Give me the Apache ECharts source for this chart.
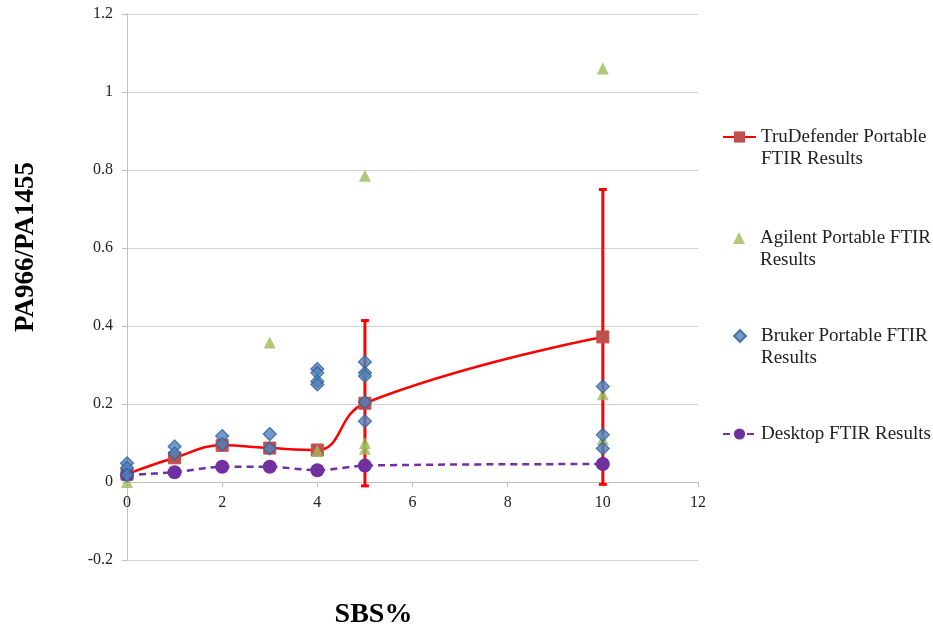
<!DOCTYPE html>
<html><head><meta charset="utf-8">
<script src="https://cdn.jsdelivr.net/npm/echarts@6/dist/echarts.min.js"></script>
<style>html,body{margin:0;padding:0;background:#fff}#c{width:933px;height:625px}</style>
</head><body><div id="c"></div>
<script>
const truX = [0, 1, 2, 3, 4, 5, 10];
const truY = [0.02, 0.062, 0.094, 0.087, 0.082, 0.202, 0.372];
const truErr = [0, 0, 0, 0, 0, 0.212, 0.378];
const agilentX = [0, 3, 4, 5, 5, 5, 10, 10, 10];
const agilentY = [0.0, 0.358, 0.08, 0.785, 0.1, 0.085, 1.06, 0.225, 0.11];
const brukerX = [0, 0, 0, 1, 1, 2, 2, 3, 3, 4, 4, 4, 4, 5, 5, 5, 5, 5, 10, 10, 10];
const brukerY = [0.048, 0.036, 0.018, 0.091, 0.073, 0.118, 0.097, 0.123, 0.086, 0.29, 0.28, 0.258, 0.25, 0.308, 0.28, 0.272, 0.205, 0.156, 0.245, 0.121, 0.086];
const deskX = [0, 1, 2, 3, 4, 5, 10];
const deskY = [0.018, 0.025, 0.039, 0.039, 0.03, 0.042, 0.046];
const names = ['TruDefender Portable FTIR Results', 'Agilent Portable FTIR Results', 'Bruker Portable FTIR Results', 'Desktop FTIR Results'];
const legendText = ['\nTruDefender Portable\nFTIR Results', '\nAgilent Portable FTIR\nResults', '\nBruker Portable FTIR\nResults', 'Desktop FTIR Results'];
const zip = (xs, ys) => xs.map((x, i) => [x, ys[i]]);
const errData = truX.map((x, i) => [x, truY[i] - truErr[i], truY[i] + truErr[i]]).filter((d, i) => truErr[i] > 0);

const chart = echarts.init(document.getElementById('c'));
const serif = '"Liberation Serif", "Times New Roman", serif';
const legendTops = [104, 205, 303, 423];
const legendIsLine = [true, false, false, true];
const legends = names.map((n, i) => ({
  orient: 'vertical', left: legendIsLine[i] ? 722 : 733, top: legendTops[i], padding: 0,
  itemWidth: legendIsLine[i] ? 33 : 12, itemHeight: legendIsLine[i] ? 14 : 12,
  data: [n],
  formatter: () => legendText[i],
  textStyle: { fontFamily: serif, fontSize: 19, color: '#222', lineHeight: 22,
    padding: [0, 0, 0, legendIsLine[i] ? 0 : 10] }
}));
chart.setOption({
  animation: false,
  grid: { left: 127, right: 235, top: 14, bottom: 65, containLabel: false, outerBoundsMode: 'none' },
  xAxis: {
    type: 'value', min: 0, max: 12, interval: 2, position: 'bottom', offset: -78,
    name: 'SBS%', nameLocation: 'middle', nameGap: 119,
    nameTextStyle: { fontFamily: serif, fontWeight: 'bold', fontSize: 28, color: '#000', padding: [0, 78, 0, 0] },
    axisLine: { onZero: false, lineStyle: { color: '#bfbfbf', width: 1 } },
    axisTick: { show: true, length: 5, lineStyle: { color: '#bfbfbf' } },
    axisLabel: { fontFamily: serif, fontSize: 16, color: '#222', margin: 13 },
    splitLine: { show: false }
  },
  yAxis: {
    type: 'value', min: -0.2, max: 1.2, interval: 0.2,
    name: 'PA966/PA1455', nameLocation: 'middle', nameGap: 87, nameRotate: 90,
    nameTextStyle: { fontFamily: serif, fontWeight: 'bold', fontSize: 27, color: '#000', padding: [0, 0, 0, 80] },
    axisLine: { show: true, lineStyle: { color: '#bfbfbf', width: 1 } },
    axisTick: { show: true, length: 5, lineStyle: { color: '#bfbfbf' } },
    axisLabel: { fontFamily: serif, fontSize: 16, color: '#222', margin: 14,
      formatter: v => String(Math.round(v * 10) / 10) },
    splitLine: { show: true, lineStyle: { color: '#d0d0d0', width: 1 } }
  },
  legend: legends,
  series: [
    {
      name: names[0], type: 'line', data: zip(truX, truY), smooth: 0.45,
      symbol: 'rect', symbolSize: 12, z: 3,
      lineStyle: { color: '#ff0000', width: 2.5 },
      itemStyle: { color: '#c0504d', borderColor: '#c0504d' }
    },
    {
      name: 'err', type: 'custom', data: errData, z: 2,
      renderItem: (params, api) => {
        const x = api.value(0);
        const lo = api.coord([x, api.value(1)]);
        const hi = api.coord([x, api.value(2)]);
        const st = { stroke: '#ff0000', lineWidth: 3 };
        return { type: 'group', children: [
          { type: 'line', shape: { x1: lo[0], y1: lo[1], x2: hi[0], y2: hi[1] }, style: st },
          { type: 'line', shape: { x1: lo[0] - 4, y1: lo[1], x2: lo[0] + 4, y2: lo[1] }, style: st },
          { type: 'line', shape: { x1: hi[0] - 4, y1: hi[1], x2: hi[0] + 4, y2: hi[1] }, style: st }
        ]};
      }
    },
    {
      name: names[1], type: 'scatter', data: zip(agilentX, agilentY),
      symbol: 'triangle', symbolSize: 12, z: 4,
      itemStyle: { color: '#9bbb59' }
    },
    {
      name: names[2], type: 'scatter', data: zip(brukerX, brukerY),
      symbol: 'diamond', symbolSize: 13, z: 5,
      itemStyle: { color: '#4f81bd', borderColor: '#2f5f95', borderWidth: 1.2 }
    },
    {
      name: names[3], type: 'line', data: zip(deskX, deskY), smooth: 0.3,
      symbol: 'circle', symbolSize: 14, z: 3,
      lineStyle: { color: '#7030a0', width: 2.5, type: [7, 5] },
      itemStyle: { color: '#7030a0' }
    }
  ]
});
</script></body></html>
